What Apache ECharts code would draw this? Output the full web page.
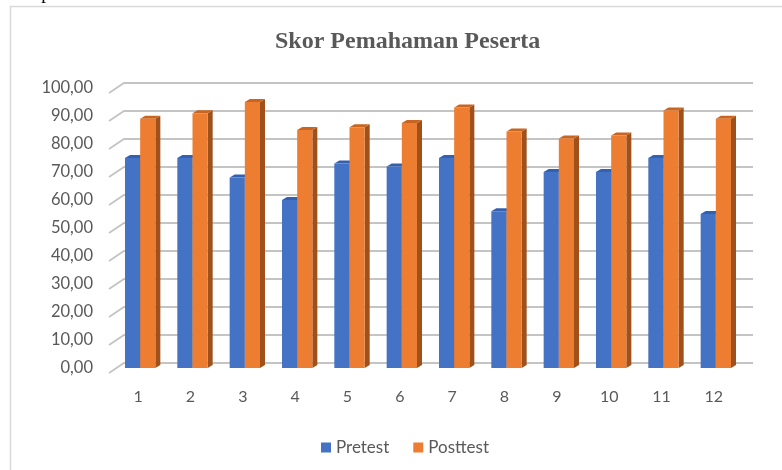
<!DOCTYPE html>
<html>
<head>
<meta charset="utf-8">
<script src="https://cdn.jsdelivr.net/npm/echarts@6/dist/echarts.min.js"></script>
<style>
  html, body { margin: 0; padding: 0; background: #fff; }
  #main { width: 782px; height: 470px; }
</style>
</head>
<body>
<div id="main"></div>
<script>
// data
var categories = ['1', '2', '3', '4', '5', '6', '7', '8', '9', '10', '11', '12'];
var pretest = [75, 75, 68, 60, 73, 72, 75, 56, 70, 70, 75, 55];
var posttest = [89, 91, 95, 85, 86, 87.5, 93, 84.5, 82, 83, 92, 89];
var yTicks = [0, 10, 20, 30, 40, 50, 60, 70, 80, 90, 100];

var myChart = echarts.init(document.getElementById('main'));

// batang 3D sederhana: muka depan, atas, samping
function bar3d(pos, front, top, side) {
    return function (params, api) {
        var i = api.value(0), v = api.value(1);
        var base = api.coord([i, 0]);
        var tip = api.coord([i, v]);
        var band = api.size([1, 0])[0];
        var w = band * 0.29;
        var x0 = base[0] + (pos === 0 ? -w : 0) - 1;
        var x1 = x0 + w;
        var d = 5, h = 3;
        return {
            type: 'group',
            children: [
                { type: 'polygon', shape: { points: [[x1, tip[1]], [x1 + d, tip[1] - h], [x1 + d, base[1] - h], [x1, base[1]]] }, style: { fill: side } },
                { type: 'polygon', shape: { points: [[x0, tip[1]], [x0 + d, tip[1] - h], [x1 + d, tip[1] - h], [x1, tip[1]]] }, style: { fill: top } },
                { type: 'rect', shape: { x: x0, y: tip[1], width: w, height: base[1] - tip[1] }, style: { fill: front } }
            ]
        };
    };
}

// garis kisi dengan dinding belakang
function gridLine(params, api) {
    var cs = params.coordSys;
    var y = api.coord([0, api.value(1)])[1];
    return {
        type: 'polyline',
        shape: { points: [[cs.x - 6, y + 5], [cs.x + 9, y - 5], [cs.x + cs.width + 10, y - 5]] },
        style: { stroke: '#c4c4c4', lineWidth: 1.8, fill: null }
    };
}

var option = {
    animation: false,
    title: {
        text: 'Skor Pemahaman Peserta',
        left: 270,
        top: 25,
        textStyle: { fontFamily: 'Liberation Serif', fontWeight: 'bold', fontSize: 24, color: '#595959' }
    },
    graphic: [
        { type: 'line', shape: { x1: 10.5, y1: 6, x2: 10.5, y2: 470 }, style: { stroke: '#d9d9d9', lineWidth: 1.5 } },
        { type: 'line', shape: { x1: 10, y1: 6.5, x2: 782, y2: 6.5 }, style: { stroke: '#d9d9d9', lineWidth: 1.5 } },
        { type: 'text', left: -2, top: -15, style: { text: 'r dan posttest.', font: '19px "Liberation Serif"', fill: '#000' } }
    ],
    legend: {
        left: 316,
        top: 434,
        itemWidth: 10,
        itemHeight: 10,
        itemGap: 24,
        icon: 'rect',
        textStyle: { fontFamily: 'Lato', fontSize: 17, color: '#595959' },
        data: ['Pretest', 'Posttest']
    },
    grid: { left: 115, top: 88, width: 628, height: 280 },
    xAxis: {
        type: 'category',
        data: categories,
        axisLine: { show: false },
        axisTick: { show: false },
        axisLabel: { margin: 21, color: '#595959', fontFamily: 'Lato', fontSize: 16, padding: [0, 6, 0, 0] }
    },
    yAxis: {
        type: 'value',
        min: 0,
        max: 100,
        interval: 10,
        splitLine: { show: false },
        axisLine: { show: false },
        axisTick: { show: false },
        axisLabel: {
            margin: 22,
            color: '#595959',
            fontFamily: 'Lato',
            fontSize: 16.5,
            padding: [10, 0, 0, 0],
            formatter: function (v) { return v.toFixed(2).replace('.', ','); }
        }
    },
    series: [
        {
            name: 'grid',
            type: 'custom',
            z: 1,
            silent: true,
            renderItem: gridLine,
            encode: { x: 0, y: 1 },
            data: yTicks.map(function (t) { return [0, t]; })
        },
        {
            name: 'Pretest',
            type: 'custom',
            z: 2,
            itemStyle: { color: '#4472C4' },
            renderItem: bar3d(0, '#4472C4', '#3560AE', '#2F528F'),
            encode: { x: 0, y: 1 },
            data: pretest.map(function (v, i) { return [i, v]; })
        },
        {
            name: 'Posttest',
            type: 'custom',
            z: 3,
            itemStyle: { color: '#ED7D31' },
            renderItem: bar3d(1, '#ED7D31', '#C9651F', '#A0501B'),
            encode: { x: 0, y: 1 },
            data: posttest.map(function (v, i) { return [i, v]; })
        }
    ]
};
myChart.setOption(option);
</script>
</body>
</html>
